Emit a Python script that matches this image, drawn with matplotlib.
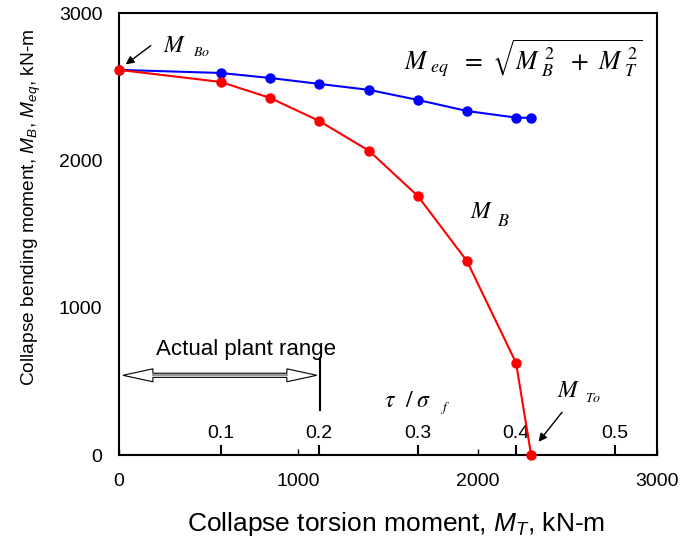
import matplotlib
matplotlib.use("Agg")
import matplotlib.pyplot as plt
from matplotlib.patches import Polygon

plt.rcParams['font.family'] = ['Liberation Sans', 'DejaVu Sans']
plt.rcParams['mathtext.fontset'] = 'custom'
plt.rcParams['mathtext.rm'] = 'Liberation Sans'
plt.rcParams['mathtext.it'] = 'Liberation Sans:italic'
plt.rcParams['mathtext.bf'] = 'Liberation Sans:bold'

# Data
torsion = [0, 567, 842, 1115, 1395, 1666, 1940, 2214, 2298]          # M_T, kN-m
bending = [2614, 2532, 2424, 2268, 2064, 1758, 1317, 625, 0]          # M_B, kN-m
equivalent = [2614, 2593, 2559, 2519, 2478, 2410, 2335, 2290, 2288]   # M_eq, kN-m
ratio_ticks = [0.1, 0.2, 0.3, 0.4, 0.5]
ratio_scale = 5494.0   # M_T per unit tau/sigma_f
ratio_offset = 17.0
plant_limit = 1121

SERIF_MATH = 'stix'

fig = plt.figure(figsize=(7.0, 5.39), dpi=100)
ax = fig.add_axes([0.170, 1 - 455 / 539, 0.9386 - 0.170, (455 - 13) / 539])

ax.plot(torsion, equivalent, color='#0000FF', lw=1.5, marker='o', ms=6.5, zorder=3)
ax.plot(torsion, bending, color='#FF0000', lw=1.5, marker='o', ms=6.5, zorder=3, clip_on=False)

ax.set_xlim(0, 3000)
ax.set_ylim(0, 3000)
ax.set_xticks([0, 1000, 2000, 3000])
ax.set_yticks([0, 1000, 2000, 3000])
ax.tick_params(axis='x', direction='in', length=4, width=1, pad=13, labelsize=14)
ax.tick_params(axis='y', length=0, pad=12, labelsize=14)
for s in ax.spines.values():
    s.set_linewidth(1.5)

ax.set_xlabel('Collapse torsion moment, $M_T$, kN-m', fontsize=19)
ax.xaxis.set_label_coords((396 - 119) / 538, (455 - 510) / 442)
ax.set_ylabel('Collapse bending moment, $M_B$, $M_{eq}$, kN-m', fontsize=13.8)
ax.yaxis.set_label_coords((43 - 119) / 538, (455 - 207) / 442)

# Secondary axis tau/sigma_f drawn inside bottom
sec = ax.secondary_xaxis(0.0, functions=(lambda x: (x - ratio_offset) / ratio_scale,
                                          lambda t: t * ratio_scale + ratio_offset))
sec.set_alignment('top')
sec.set_xticks(ratio_ticks)
sec.set_xticklabels([f'{t:.1f}' for t in ratio_ticks])
sec.tick_params(direction='out', length=7.5, width=1.5, pad=2, labelsize=14)
for s in sec.spines.values():
    s.set_visible(False)

# Annotations (Times-like math)
def mtext(x, y, s, size):
    ax.text(x, y, s, fontsize=size, ha='left', va='baseline', math_fontfamily=SERIF_MATH)

ax.annotate('', xy=(25, 2640), xytext=(190, 2790),
            arrowprops=dict(arrowstyle='-|>', color='black', lw=1, mutation_scale=12))
mtext(245, 2736, '$M$', 17)
mtext(410, 2705, '$Bo$', 10)

mtext(1590, 2615, r'$M_{\ eq}\ \ =\ \sqrt{M_{\ B}^{\ 2}\ \ +\ M_{\ T}^{\ 2}}$', 18.5)

mtext(1955, 1609, '$M$', 17)
mtext(2110, 1555, '$B$', 13)

mtext(1480, 328, r'$\tau\ \ /\;\sigma$', 17)
mtext(1790, 299, '$f$', 10)

mtext(2443, 394, '$M$', 17)
mtext(2599, 360, '$To$', 10)
ax.annotate('', xy=(2330, 75), xytext=(2480, 305),
            arrowprops=dict(arrowstyle='-|>', color='black', lw=1, mutation_scale=12))

# Actual plant range
ax.text(708, 713, 'Actual plant range', fontsize=16, ha='center', va='center')
ax.plot([plant_limit, plant_limit], [305, 658], color='black', lw=1.5)
x0, x1, yc = 22, 1103, 541
hl, hh, sh = 167, 44, 14
arrow_pts = [(x0, yc), (x0 + hl, yc + hh), (x0 + hl, yc + sh), (x1 - hl, yc + sh),
             (x1 - hl, yc + hh), (x1, yc), (x1 - hl, yc - hh), (x1 - hl, yc - sh),
             (x0 + hl, yc - sh), (x0 + hl, yc - hh)]
ax.add_patch(Polygon(arrow_pts, closed=True, facecolor='white', edgecolor='black', lw=0.8))
ax.plot([x0 + hl, x1 - hl], [yc, yc], color='#999999', lw=1.5)

fig.savefig('out.png', dpi=100)
